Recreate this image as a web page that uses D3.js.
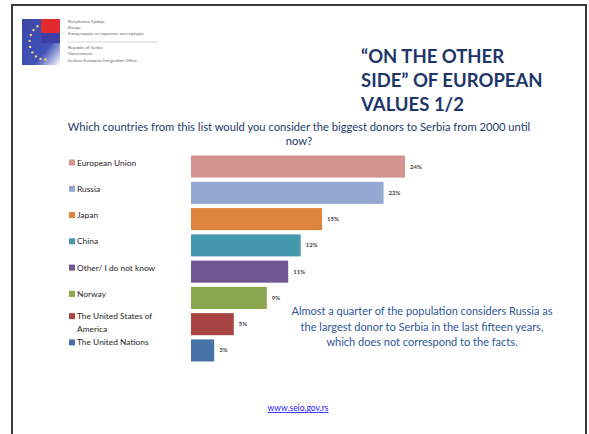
<!DOCTYPE html>
<html>
<head>
<meta charset="utf-8">
<script src="https://cdn.jsdelivr.net/npm/d3@7"></script>
<style>
  body { margin: 0; background: #fff; }
  svg { display: block; }
</style>
</head>
<body>
<svg width="589" height="434"></svg>
<script>
// data
let categories = [
  "European Union",
  "Russia",
  "Japan",
  "China",
  "Other/ I do not know",
  "Norway",
  "The United States of America",
  "The United Nations",
];
let values = [24.0, 21.6, 14.7, 12.3, 10.9, 8.5, 4.8, 2.6];
let colors = ["#d39391", "#94a9d1", "#dd843d", "#4499ae", "#715791", "#8aa64e", "#a94444", "#4672a8"];
let titleLines = ["\u201cON THE OTHER", "SIDE\u201d OF  EUROPEAN", "VALUES 1/2"];
let questionLines = [
  "Which countries from this list would you consider the biggest donors to Serbia from 2000 until",
  "now?",
];
let noteLines = [
  "Almost a quarter of the population considers Russia as",
  "the largest donor to Serbia in the last fifteen years,",
  "which does not correspond to the facts.",
];
let logoLines = [
  "Република Србија",
  "Влада",
  "Канцеларија за европске интеграције",
  "Republic of Serbia",
  "Government",
  "Serbian European Integration Office",
];

let svg = d3.select("svg");
let font = "Lato, 'Open Sans', sans-serif";

// slide frame
svg.append("path")
  .attr("d", "M12,434 V5 H586 V434")
  .attr("fill", "none")
  .attr("stroke", "#3a3a3a")
  .attr("stroke-width", 2);

// logo
let defs = svg.append("defs");
let grad = defs.append("linearGradient").attr("id", "flag")
  .attr("x1", 0).attr("y1", 0).attr("x2", 1).attr("y2", 1);
grad.append("stop").attr("offset", "0%").attr("stop-color", "#3a47a8");
grad.append("stop").attr("offset", "65%").attr("stop-color", "#4052b8");
grad.append("stop").attr("offset", "100%").attr("stop-color", "#ffffff");
let logo = svg.append("g");
logo.append("rect").attr("x", 22).attr("y", 19).attr("width", 38).attr("height", 46).attr("fill", "url(#flag)");
logo.append("rect").attr("x", 41).attr("y", 19).attr("width", 19).attr("height", 14).attr("fill", "#e32a2f");
logo.append("rect").attr("x", 41).attr("y", 33).attr("width", 19).attr("height", 10).attr("fill", "#3d3fa6");
d3.range(9).forEach((i) => {
  let a = Math.PI * (0.15 + i * 0.11);
  logo.append("circle")
    .attr("cx", 44 - 16 * Math.sin(a) * 0.9)
    .attr("cy", 42 - 16 * Math.cos(a) * 1.1)
    .attr("r", 1.2)
    .attr("fill", "#f2d36a");
});
logo.selectAll("text.logo")
  .data(logoLines)
  .enter()
  .append("text")
  .attr("x", 68)
  .attr("y", (d, i) => [23, 29, 35, 49, 55, 62][i])
  .attr("font-family", font)
  .attr("font-size", 4.4)
  .attr("fill", "#666")
  .text((d) => d);
logo.append("line").attr("x1", 68).attr("x2", 158).attr("y1", 42).attr("y2", 42)
  .attr("stroke", "#bbb").attr("stroke-width", 0.6);

// title
svg.append("g").selectAll("text")
  .data(titleLines)
  .enter()
  .append("text")
  .attr("x", 361)
  .attr("y", (d, i) => 63 + i * 24)
  .attr("font-family", font)
  .attr("font-weight", "bold")
  .attr("font-size", 18.5)
  .attr("fill", "#1f3768")
  .text((d) => d);

// question
svg.append("g").selectAll("text")
  .data(questionLines)
  .enter()
  .append("text")
  .attr("x", 299)
  .attr("y", (d, i) => 131 + i * 14)
  .attr("text-anchor", "middle")
  .attr("font-family", font)
  .attr("font-size", 11.2)
  .attr("fill", "#24396a")
  .text((d) => d);

// bars
let x = d3.scaleLinear().domain([0, 24]).range([191, 405]);
let y = d3.scaleBand().domain(categories).range([155, 362]).paddingInner(0.16).paddingOuter(0.02);

svg.append("g").selectAll("rect")
  .data(values)
  .enter()
  .append("rect")
  .attr("x", x(0))
  .attr("y", (d, i) => y(categories[i]))
  .attr("width", (d) => x(d) - x(0))
  .attr("height", y.bandwidth())
  .attr("fill", (d, i) => colors[i]);

svg.append("g").selectAll("text")
  .data(values)
  .enter()
  .append("text")
  .attr("x", (d) => x(d) + 5)
  .attr("y", (d, i) => y(categories[i]) + y.bandwidth() / 2 + 2)
  .attr("font-family", font)
  .attr("font-weight", "bold")
  .attr("font-size", 6)
  .attr("fill", "#444")
  .text((d) => Math.round(d) + "%");

// legend-style category labels
let leg = svg.append("g").selectAll("g")
  .data(categories)
  .enter()
  .append("g")
  .attr("transform", (d, i) => {
    let cy = y(d) + 7;
    if (i == 6) cy = y(d) + 3;
    if (i == 7) cy = y(d) + 3;
    return `translate(69,${cy})`;
  });
leg.append("rect")
  .attr("x", 0).attr("y", -3)
  .attr("width", 6).attr("height", 6)
  .attr("fill", (d, i) => colors[i]);
leg.append("text")
  .attr("x", 8)
  .attr("y", 3)
  .attr("font-family", font)
  .attr("font-size", 8.4)
  .attr("fill", "#262626")
  .each(function (d) {
    let t = d3.select(this);
    if (d == "The United States of America") {
      t.append("tspan").attr("x", 8).attr("dy", 0).text("The United States of");
      t.append("tspan").attr("x", 8).attr("dy", 12.5).text("America");
    } else {
      t.text(d);
    }
  });

// annotation
svg.append("g").selectAll("text")
  .data(noteLines)
  .enter()
  .append("text")
  .attr("x", 422)
  .attr("y", (d, i) => 315 + i * 15.5)
  .attr("text-anchor", "middle")
  .attr("font-family", font)
  .attr("font-size", 11)
  .attr("fill", "#2f5597")
  .text((d) => d);

// footer link
svg.append("text")
  .attr("x", 298)
  .attr("y", 411)
  .attr("text-anchor", "middle")
  .attr("font-family", font)
  .attr("font-size", 8.5)
  .attr("fill", "#1a1aff")
  .attr("text-decoration", "underline")
  .text("www.seio.gov.rs");
</script>
</body>
</html>
